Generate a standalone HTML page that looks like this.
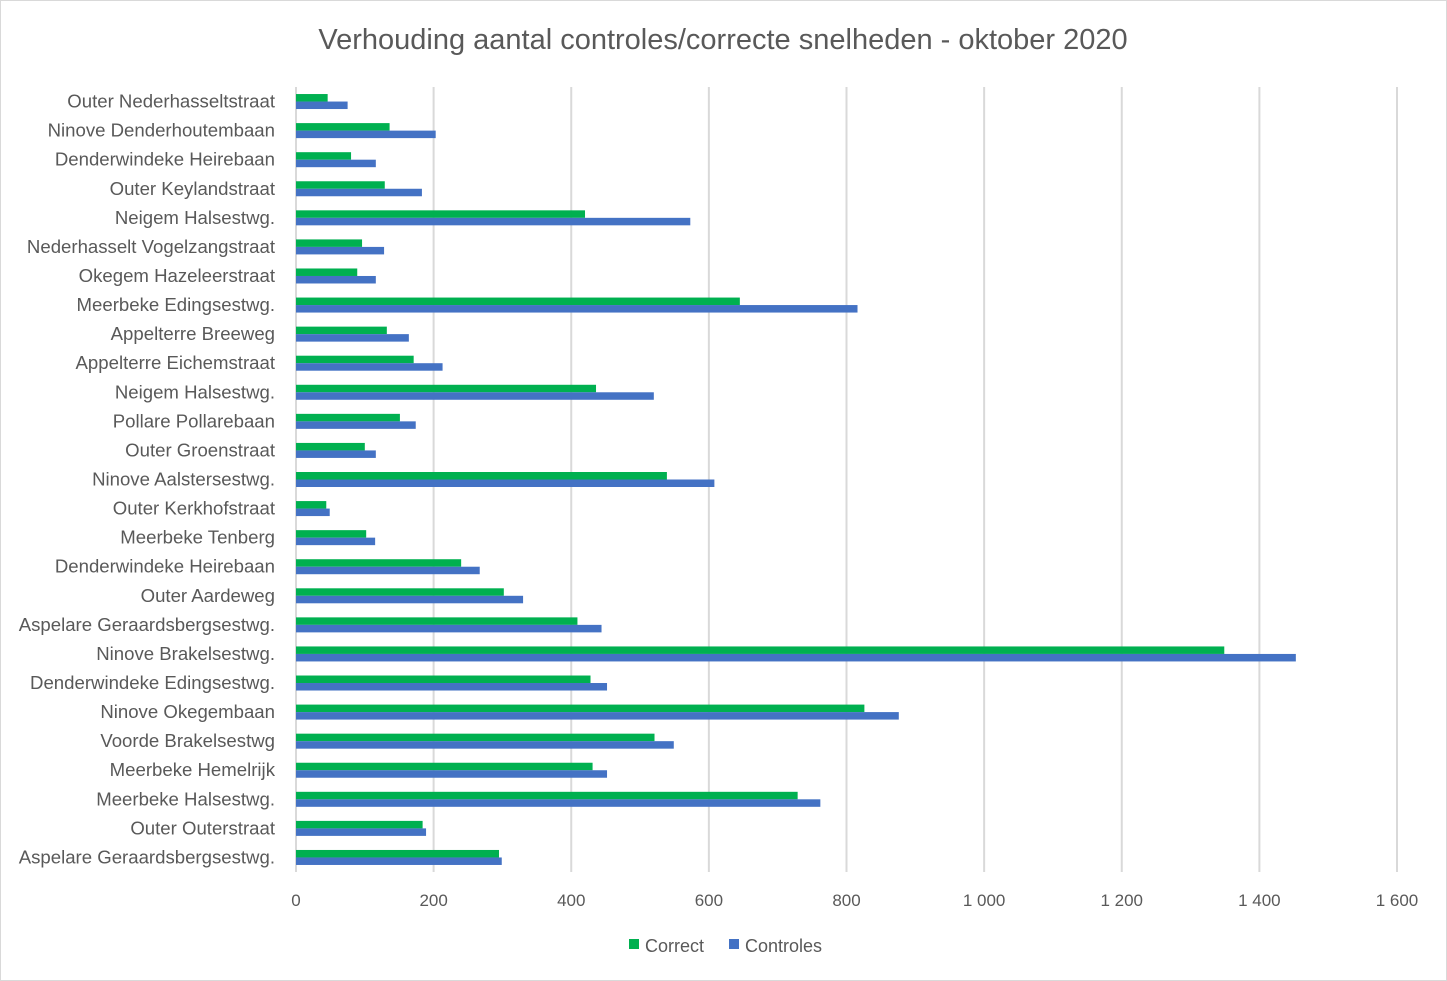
<!DOCTYPE html>
<html><head><meta charset="utf-8"><style>
body{margin:0;background:#fff;}
svg{display:block;font-family:"Liberation Sans",sans-serif;}
</style></head><body>
<svg id="chart" width="1447" height="981">
<rect x="0.5" y="0.5" width="1446" height="980" fill="#fff" stroke="#d9d9d9"/>
<text x="723" y="49" text-anchor="middle" font-size="29" fill="#595959">Verhouding aantal controles/correcte snelheden - oktober 2020</text>
<g id="grid"></g><g id="bars"></g><g id="labels"></g>
<g>
<rect x="629" y="939" width="10" height="10" fill="#00b050"/>
<text x="645" y="952" font-size="18" fill="#595959">Correct</text>
<rect x="729" y="939" width="10" height="10" fill="#4472c4"/>
<text x="745" y="952" font-size="18" fill="#595959">Controles</text>
</g>
</svg>
<script>
const categories=["Outer Nederhasseltstraat","Ninove Denderhoutembaan","Denderwindeke Heirebaan","Outer Keylandstraat","Neigem Halsestwg.","Nederhasselt Vogelzangstraat","Okegem Hazeleerstraat","Meerbeke Edingsestwg.","Appelterre Breeweg","Appelterre Eichemstraat","Neigem Halsestwg.","Pollare Pollarebaan","Outer Groenstraat","Ninove Aalstersestwg.","Outer Kerkhofstraat","Meerbeke Tenberg","Denderwindeke Heirebaan","Outer Aardeweg","Aspelare Geraardsbergsestwg.","Ninove Brakelsestwg.","Denderwindeke Edingsestwg.","Ninove Okegembaan","Voorde Brakelsestwg","Meerbeke Hemelrijk","Meerbeke Halsestwg.","Outer Outerstraat","Aspelare Geraardsbergsestwg."];
const correct=[46,136,80,129,420,96,89,645,132,171,436,151,100,539,44,102,240,302,409,1349,428,826,521,431,729,184,295];
const controles=[75,203,116,183,573,128,116,816,164,213,520,174,116,608,49,115,267,330,444,1453,452,876,549,452,762,189,299];
const ticks=[0,200,400,600,800,1000,1200,1400,1600];
const tickLabels=["0","200","400","600","800","1 000","1 200","1 400","1 600"];
const X0=296,X1=1397,MAX=1600,Y0=87,Y1=872;
const xs=v=>X0+v/MAX*(X1-X0);
const band=(Y1-Y0)/categories.length;
const yc=i=>Y0+band*(i+0.5);
const NS="http://www.w3.org/2000/svg";
function mk(t,a,p){const e=document.createElementNS(NS,t);for(const k in a)e.setAttribute(k,a[k]);p.appendChild(e);return e;}
const g=document.getElementById('grid'),b=document.getElementById('bars'),l=document.getElementById('labels');
ticks.forEach((t,i)=>{
 const ln=mk('line',{x1:xs(t),x2:xs(t),y1:Y0,y2:Y1,stroke:'#d9d9d9','stroke-width':2},g);
 
 
 const tx=mk('text',{x:xs(t),y:906,'text-anchor':'middle','font-size':17,fill:'#595959'},l);
 tx.textContent=tickLabels[i];
 
 
});
categories.forEach((c,i)=>{
 const y=yc(i);
 const r1=mk('rect',{x:X0,y:y-7.5,width:xs(correct[i])-X0,height:7.5,fill:'#00b050'},b);
 
 
 const r2=mk('rect',{x:X0,y:y,width:xs(controles[i])-X0,height:7.5,fill:'#4472c4'},b);
 
 
 const t=mk('text',{x:275,y:y+6,'text-anchor':'end','font-size':18.6,fill:'#595959'},l);
 t.textContent=c;
 
 
});
</script>
</body></html>
